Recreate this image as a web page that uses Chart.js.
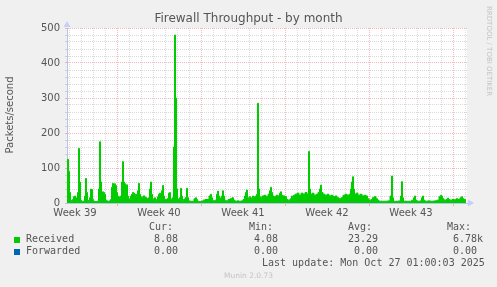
<!DOCTYPE html>
<html>
<head>
<meta charset="utf-8">
<script src="https://cdn.jsdelivr.net/npm/chart.js@4/dist/chart.umd.min.js"></script>
<style>
  body { margin: 0; background: #f0f0f0; }
  #wrap { position: relative; width: 497px; height: 287px; overflow: hidden; font-family: "DejaVu Sans", sans-serif; color: #555; }
  #wrap canvas { position: absolute; left: 0; top: 0; }
  .t { position: absolute; white-space: pre; }
  .mono { font-family: "DejaVu Sans Mono", monospace; font-size: 10px; line-height: 12px; }
  .sq { position: absolute; width: 6px; height: 6px; }
</style>
</head>
<body>
<div id="wrap">
  <canvas id="chart" width="497" height="287"></canvas>
  <div class="t" style="left:0;width:497px;top:11px;text-align:center;font-size:12px;line-height:15px;">Firewall Throughput - by month</div>
  <div class="t" style="left:-50px;width:120px;top:109px;text-align:center;font-size:10px;line-height:12px;transform:rotate(-90deg);">Packets/second</div>
  <div class="t" style="left:485px;top:6px;font-size:7px;writing-mode:vertical-rl;color:#c4c4c4;">RRDTOOL / TOBI OETIKER</div>
  <div id="legend"></div>
  <div class="t" style="left:0;width:497px;top:271px;text-align:center;font-size:7.5px;line-height:10px;color:#c4c4c4;">Munin 2.0.73</div>
</div>
<script>
// received packets/second, 2h samples (hours since start of the graph)
const hours = [
    0, 2, 4, 6, 8, 10, 12, 14, 16, 18, 20, 22, 24, 26, 28, 30,
    34, 36, 38, 40, 42, 44, 46, 48, 50, 52, 54, 58, 62,
    64, 66, 68, 70, 72, 74, 76, 78, 82, 86,
    88, 90, 92, 94, 96, 98, 100, 102, 104, 106, 108,
    110, 112, 114, 116, 118, 120, 122, 124, 126, 128,
    130, 132, 134, 136, 138, 140, 142, 144, 146, 148, 150,
    154, 158, 162, 164, 166, 168, 170, 172,
    174, 176, 178, 180, 182, 184, 186, 188, 190, 192,
    194, 196, 198, 202, 204, 206, 208, 210, 212,
    214, 216, 218, 220, 222, 224, 226, 228, 230, 232, 234,
    238, 240, 242, 244, 248, 252, 256, 258, 260, 262,
    266, 270, 274, 278, 282, 286, 288, 290, 292, 294,
    298, 300, 302, 304, 306, 308, 310, 312, 314, 316,
    320, 324, 328, 332, 334, 338, 342, 346, 350, 354,
    356, 358, 360, 362, 364, 366, 368, 370, 372, 374,
    376, 378, 380, 382, 384, 386, 388, 392,
    396, 400, 404, 406, 408, 410, 412, 416,
    420, 424, 426, 428, 430, 434, 438, 440,
    444, 448, 450, 452, 454, 458, 462, 466,
    470, 474, 478, 482, 484, 486, 488, 492,
    496, 500, 504, 506, 508, 510, 514,
    518, 522, 526, 530, 534, 538, 542, 546, 550, 554,
    558, 562, 566, 568, 570, 572, 574, 576,
    580, 584, 588, 592, 596, 600, 602,
    606, 610, 612, 616, 620, 622, 626,
    632, 638, 644, 648, 650, 652, 654, 660,
    666, 668, 670, 672, 674, 680, 686,
    692, 694, 696, 698, 702, 708, 710, 712, 714,
    718, 724, 730, 736, 742, 746, 748, 750, 752,
    756, 760, 762, 764, 768, 772, 776, 780, 784, 788, 790, 792, 796, 798
];
const received = [
    120, 125, 90, 30, 8, 5, 10, 18, 20, 15, 8, 30, 156, 60, 8, 5,
    5, 20, 70, 30, 8, 5, 15, 40, 38, 10, 5, 4, 5,
    40, 175, 60, 20, 32, 30, 25, 8, 5, 6,
    10, 45, 56, 52, 55, 50, 30, 20, 18, 15, 20,
    60, 118, 60, 55, 50, 52, 20, 12, 10, 20,
    25, 30, 28, 22, 25, 18, 35, 56, 25, 18, 15,
    20, 15, 12, 15, 40, 60, 25, 10,
    12, 15, 8, 10, 18, 25, 28, 20, 35, 50,
    20, 10, 10, 12, 28, 30, 12, 10, 15,
    160, 480, 300, 40, 12, 10, 15, 42, 20, 8, 10,
    15, 42, 15, 6, 5, 5, 12, 15, 10, 5,
    4, 5, 8, 10, 10, 20, 25, 15, 8, 6,
    8, 25, 34, 20, 15, 12, 20, 35, 20, 8,
    6, 10, 12, 15, 8, 5, 6, 5, 6, 10,
    20, 30, 37, 15, 10, 18, 15, 12, 20, 15,
    18, 20, 25, 285, 40, 18, 15, 20,
    22, 18, 25, 35, 45, 30, 20, 18,
    22, 20, 28, 32, 22, 20, 18, 10,
    8, 12, 20, 15, 22, 25, 28, 22,
    28, 25, 30, 25, 147, 40, 25, 28,
    22, 25, 30, 40, 51, 30, 25,
    22, 25, 20, 22, 18, 20, 15, 12, 15, 22,
    25, 22, 25, 40, 60, 75, 40, 25,
    28, 22, 25, 20, 22, 20, 12,
    8, 10, 15, 18, 12, 8, 5,
    5, 5, 6, 20, 77, 15, 5, 5,
    6, 20, 61, 15, 5, 5, 5,
    8, 15, 20, 8, 5, 6, 15, 20, 8,
    5, 6, 5, 6, 8, 18, 22, 20, 12,
    8, 10, 14, 10, 8, 10, 9, 12, 10, 15, 18, 12, 10, 8
];
const forwardedHours = [0, 800];
const forwarded = [0, 0];

const weekLabels = ["Week 39", "Week 40", "Week 41", "Week 42", "Week 43"];
const weekLabelHours = [16, 184, 352, 520, 688];
const weekLineHours = [100, 268, 436, 604, 772];

const statHeaders = ["Cur:", "Min:", "Avg:", "Max:"];
const receivedStats = ["8.08", "4.08", "23.29", "6.78k"];
const forwardedStats = ["0.00", "0.00", "0.00", "0.00"];

// legend table, munin style
function legenda() {
    const el = document.getElementById("legend");
    let html = "";
    const headX = [149, 249, 348, 447];
    statHeaders.forEach((h, i) => {
        html += `<div class="t mono" style="left:${headX[i]}px;top:221px;">${h}</div>`;
    });
    html += `<div class="sq" style="left:14px;top:237px;background:#00cc00;"></div>`;
    html += `<div class="t mono" style="left:26px;top:233px;">Received</div>`;
    html += `<div class="sq" style="left:14px;top:249px;background:#0066b3;"></div>`;
    html += `<div class="t mono" style="left:26px;top:245px;">Forwarded</div>`;
    const rightX = [178, 278, 378];
    receivedStats.slice(0, 3).forEach((v, i) => {
        html += `<div class="t mono" style="right:${497 - rightX[i]}px;top:233px;">${v}</div>`;
    });
    forwardedStats.slice(0, 3).forEach((v, i) => {
        html += `<div class="t mono" style="right:${497 - rightX[i]}px;top:245px;">${v}</div>`;
    });
    html += `<div class="t mono" style="left:453px;top:233px;">${receivedStats[3]}</div>`;
    html += `<div class="t mono" style="left:453px;top:245px;">${forwardedStats[3]}</div>`;
    html += `<div class="t mono" style="left:262px;top:257px;">Last update: Mon Oct 27 01:00:03 2025</div>`;
    el.innerHTML = html;
}
legenda();

const RED = "rgba(225, 100, 100, 0.45)";
const GREY = "rgba(140, 140, 140, 0.32)";
const AXIS = "#b8c0ee";

const fundo = {
    id: "fundo",
    beforeDraw(chart) {
        const { ctx, chartArea: a } = chart;
        ctx.save();
        ctx.fillStyle = "#f0f0f0";
        ctx.fillRect(0, 0, chart.width, chart.height);
        ctx.fillStyle = "#ffffff";
        ctx.fillRect(a.left, a.top, a.right - a.left, a.bottom - a.top);
        ctx.restore();
    },
    afterDraw(chart) {
        const { ctx, chartArea: a } = chart;
        ctx.save();
        ctx.fillStyle = "#c8cef5";
        ctx.beginPath();
        ctx.moveTo(a.right + 1, a.bottom - 3.5);
        ctx.lineTo(a.right + 7, a.bottom);
        ctx.lineTo(a.right + 1, a.bottom + 3.5);
        ctx.fill();
        ctx.beginPath();
        ctx.moveTo(a.left - 3.5, a.top - 1);
        ctx.lineTo(a.left, a.top - 7);
        ctx.lineTo(a.left + 3.5, a.top - 1);
        ctx.fill();
        ctx.restore();
    }
};

const isWeekLine = (v) => weekLineHours.includes(v);
const isLabel = (v) => weekLabelHours.includes(v);

new Chart(document.getElementById("chart").getContext("2d"), {
    type: "line",
    data: {
        datasets: [
            {
                label: "Received",
                data: hours.map((h, i) => ({ x: h, y: received[i] })),
                backgroundColor: "#00cc00",
                borderColor: "#00cc00",
                borderWidth: 1,
                fill: "origin",
                pointRadius: 0,
                stepped: "middle",
            },
            {
                label: "Forwarded",
                data: forwardedHours.map((h, i) => ({ x: h, y: forwarded[i] })),
                borderColor: "#0066b3",
                borderWidth: 0,
                pointRadius: 0,
                fill: false,
            },
        ],
    },
    options: {
        responsive: false,
        animation: false,
        devicePixelRatio: 1,
        layout: { padding: { left: 0, right: 30, top: 28, bottom: 0 } },
        plugins: { legend: { display: false }, tooltip: { enabled: false } },
        scales: {
            x: {
                type: "linear",
                min: 0,
                max: 800,
                afterFit: (s) => { s.height = 84; },
                afterBuildTicks: (s) => {
                    const t = [];
                    for (let h = 4; h < 800; h += 24) t.push(h);
                    weekLabelHours.forEach((h) => t.push(h));
                    t.sort((a, b) => a - b);
                    s.ticks = t.map((v) => ({ value: v }));
                },
                ticks: {
                    autoSkip: false,
                    maxRotation: 0,
                    padding: 1,
                    color: "#555",
                    font: { family: "DejaVu Sans", size: 10 },
                    callback: (v) => {
                        const i = weekLabelHours.indexOf(v);
                        return i >= 0 ? weekLabels[i] : "";
                    },
                },
                grid: {
                    lineWidth: 1,
                    tickLength: 3,
                    color: (c) => {
                        const v = c.tick ? c.tick.value : 0;
                        if (isLabel(v)) return "rgba(0,0,0,0)";
                        return isWeekLine(v) ? RED : GREY;
                    },
                    tickColor: (c) => {
                        const v = c.tick ? c.tick.value : 0;
                        return isWeekLine(v) ? RED : "rgba(0,0,0,0)";
                    },
                },
                border: { color: AXIS, width: 1, dash: [1, 1] },
            },
            y: {
                min: 0,
                max: 500,
                afterFit: (s) => { s.width = 67; },
                ticks: {
                    stepSize: 20,
                    autoSkip: false,
                    padding: 5,
                    color: "#555",
                    font: { family: "DejaVu Sans", size: 10 },
                    callback: (v) => (v % 100 === 0 ? v : ""),
                },
                grid: {
                    lineWidth: 1,
                    tickLength: 2,
                    color: (c) => {
                        const v = c.tick ? c.tick.value : 0;
                        if (v === 0) return "rgba(0,0,0,0)";
                        return v % 100 === 0 ? RED : GREY;
                    },
                    tickColor: (c) => {
                        const v = c.tick ? c.tick.value : 0;
                        return v % 100 === 0 ? RED : GREY;
                    },
                },
                border: { color: AXIS, width: 1, dash: [1, 1] },
            },
        },
    },
    plugins: [fundo],
});
</script>
</body>
</html>
